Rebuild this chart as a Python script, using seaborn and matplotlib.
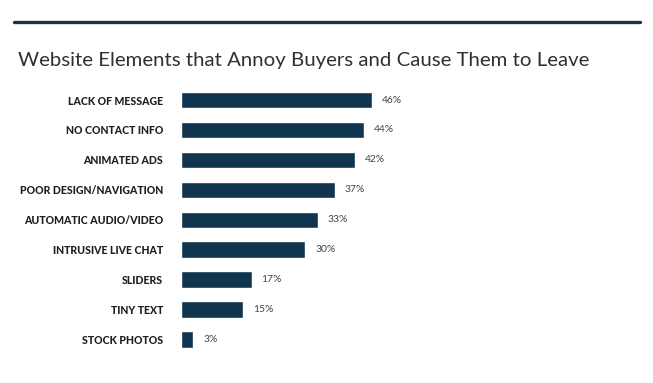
import matplotlib
matplotlib.use("Agg")
import matplotlib.pyplot as plt
import seaborn as sns
import pandas as pd
from matplotlib.lines import Line2D

categories = ["LACK OF MESSAGE", "NO CONTACT INFO", "ANIMATED ADS", "POOR DESIGN/NAVIGATION",
              "AUTOMATIC AUDIO/VIDEO", "INTRUSIVE LIVE CHAT", "SLIDERS", "TINY TEXT", "STOCK PHOTOS"]
values = [46, 44, 42, 37, 33, 30, 17, 15, 3]
title = "Website Elements that Annoy Buyers and Cause Them to Leave"

sns.set_theme(style="white")
plt.rcParams['font.family'] = ['Lato', 'DejaVu Sans']

df = pd.DataFrame({"cat": categories, "val": values})

fig = plt.figure(figsize=(6.53, 3.83), dpi=100)
ax = fig.add_axes([181/653, 1-354.45/383, 415/653, (354.45-85.05)/383])
sns.barplot(data=df, y="cat", x="val", color="#12354f", saturation=1, width=0.55, ax=ax)
ax.set_xlim(0, 100)
ax.set_ylim(8.5, -0.5)
for s in ax.spines.values():
    s.set_visible(False)
ax.set_xticks([])
ax.set_xlabel("")
ax.set_ylabel("")
ax.tick_params(axis="y", length=0, pad=13)
for lbl in ax.get_yticklabels():
    lbl.set_fontsize(7.6)
    lbl.set_fontweight("black")
    lbl.set_color("#1f1f1f")

for i, v in enumerate(values):
    ax.text(v + 2.4, i, f"{v}%", va="center", ha="left", fontsize=7.4, color="#444444")

fig.add_artist(Line2D([14/653, 640/653], [1-21.5/383, 1-21.5/383], color="#15334a", linewidth=2.4))
fig.text(18/653, 1-66/383, title, fontsize=14.65, fontweight="normal", color="#303030", ha="left", va="baseline")

fig.savefig("out.png", dpi=100, facecolor="white")
